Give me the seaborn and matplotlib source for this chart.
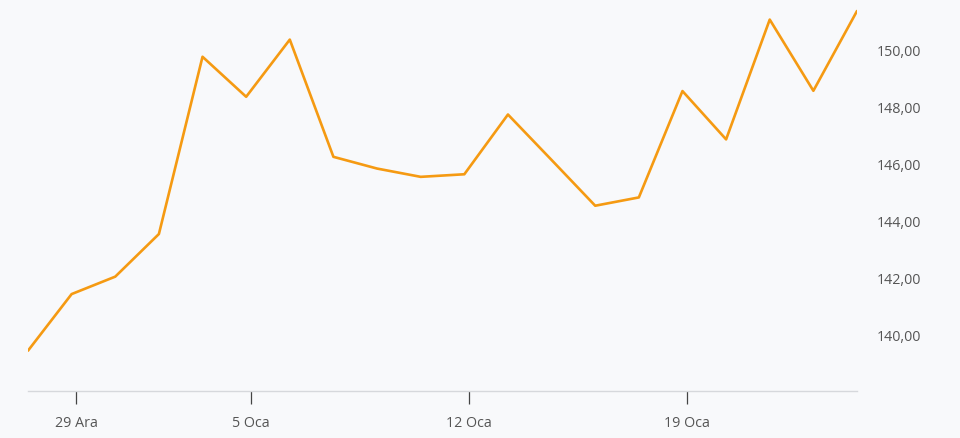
import matplotlib
matplotlib.use("Agg")
import matplotlib.pyplot as plt
import seaborn as sns
import pandas as pd

# islem gunleri (26 Ara - 23 Oca) ve kapanis degerleri
tarihler = ["26 Ara", "29 Ara", "30 Ara", "31 Ara", "2 Oca", "5 Oca", "6 Oca", "7 Oca",
            "8 Oca", "9 Oca", "12 Oca", "13 Oca", "14 Oca", "15 Oca", "16 Oca",
            "19 Oca", "20 Oca", "21 Oca", "22 Oca", "23 Oca"]
fiyat = [139.45, 141.43, 142.04, 143.53, 149.73, 148.33, 150.33, 146.23,
         145.82, 145.53, 145.62, 147.71, 146.12, 144.52, 144.81,
         148.53, 146.84, 151.03, 148.54, 151.33]
etiket_gunleri = ["29 Ara", "5 Oca", "12 Oca", "19 Oca"]
y_ticks = [140, 142, 144, 146, 148, 150]

df = pd.DataFrame({"tarih": tarihler, "fiyat": fiyat})
df["sira"] = range(len(df))

sns.set_style("white")
plt.rcParams["font.family"] = ["Open Sans", "DejaVu Sans"]

bg = "#f8f9fb"
fig = plt.figure(figsize=(9.6, 4.39), dpi=100, facecolor=bg)
ax = fig.add_axes([28 / 960, 1 - 392 / 439, (857 - 28) / 960, 392 / 439])
ax.set_facecolor(bg)

sns.lineplot(data=df, x="sira", y="fiyat", ax=ax, color="#f59a12", linewidth=1.9)

ax.set_xlim(0, len(df) - 1)
ax.set_ylim(138.04, 151.75)

# x ekseni: tarih etiketleri
pos = [df.loc[df["tarih"] == t, "sira"].iloc[0] + 0.1 for t in etiket_gunleri]
ax.set_xticks(pos)
ax.set_xticklabels(etiket_gunleri)
ax.tick_params(axis="x", direction="out", length=9, width=0.9, color="#444444",
               labelsize=10.3, labelcolor="#555555", pad=8, bottom=True)

# y ekseni sagda
ax.yaxis.tick_right()
ax.set_yticks(y_ticks)
ax.set_yticklabels([f"{v:.2f}".replace(".", ",") for v in y_ticks])
ax.tick_params(axis="y", length=0, labelsize=10.3, labelcolor="#555555", pad=14.5)

for s in ["top", "left", "right"]:
    ax.spines[s].set_visible(False)
ax.spines["bottom"].set_color("#d6d8dc")
ax.spines["bottom"].set_linewidth(1)

ax.set_xlabel("")
ax.set_ylabel("")

fig.savefig("out.png", dpi=100, facecolor=bg)
